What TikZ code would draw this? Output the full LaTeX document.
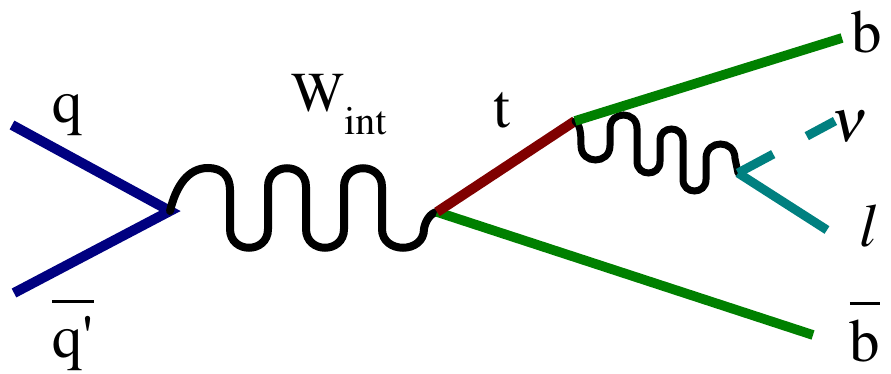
\documentclass[tikz,border=0pt]{standalone}
\usepackage[T1]{fontenc}
\usepackage{mathptmx}
\usepackage{tikz}
\definecolor{quarkblue}{RGB}{0,0,128}
\definecolor{topred}{RGB}{128,0,0}
\definecolor{bgreen}{RGB}{0,128,0}
\definecolor{leptonteal}{RGB}{0,128,128}
\newcommand\antibar[2]{\vbox{\hrule height 0.09cm\kern #1\hbox{\smash{#2}}}}
\tikzset{
  %% ---- fermion lines ----
  quark/.style   = {line width=0.3cm, color=quarkblue, line join=miter},
  topline/.style = {line width=0.3cm, color=topred},
  bline/.style   = {line width=0.29cm, color=bgreen},
  lepton/.style  = {line width=0.27cm, color=leptonteal},
  %% ---- bosons ----
  wint/.style    = {line width=0.24cm, black, line cap=round},
  wlep/.style    = {line width=0.21cm, black, line cap=round},
  %% ---- labels ----
  partname/.style = {inner sep=0pt, anchor=base,
                     font=\rmfamily\fontsize{#1}{60}\selectfont},
  partname/.default = 52,
}
\begin{document}
\begin{tikzpicture}[x=0.03cm, y=-0.03cm]
  \useasboundingbox (0,0) rectangle (891,374);

  %% vertices and free ends
  \coordinate (qin)   at (12,125);
  \coordinate (qbin)  at (14,293);
  \coordinate (v1)    at (170,211);
  \coordinate (v2)    at (437,212);
  \coordinate (v3)    at (575,121);
  \coordinate (v4)    at (738,173);
  \coordinate (bout)  at (842,38);
  \coordinate (bbout) at (813,335);
  \coordinate (nuout) at (835,121);
  \coordinate (lout)  at (827,230);

  %% incoming quarks
  \draw[quark] (qin) -- (v1) -- (qbin);

  %% W_int
  \draw[wint] (v1) .. controls (176,186) and (188,168) .. (208,168)
    .. controls (222,168) and (230,176) .. (230,190)
    \foreach \x in {230,306} {
      -- (\x,229) .. controls (\x,254) and (\x+38,254) .. (\x+38,229)
      -- (\x+38,187) .. controls (\x+38,162) and (\x+76,162) .. (\x+76,187)}
    -- (382,229) .. controls (382,254) and (424,254) .. (424,229)
    .. controls (425,222) and (430,213) .. (v2);

  %% b quarks and top
  \draw[bline] (v2) -- (bbout);
  \draw[topline] (v2) -- (v3);

  %% W from the top decay
  \draw[wlep] (v3) .. controls (580,125) and (581,132) .. (581,145.5)
    .. controls (581,164.8) and (610,164.8) .. (610,145.5)
    -- (610,128.5) .. controls (610,110.5) and (637,110.5) .. (637,128.5)
    -- (637,161.5) .. controls (637,176.8) and (660,176.8) .. (660,161.5)
    -- (660,140.5) .. controls (660,125.2) and (683,125.2) .. (683,140.5)
    -- (683,179.5) .. controls (683,194.8) and (706,194.8) .. (706,179.5)
    -- (706,158.5) .. controls (706,139.2) and (735,139.2) .. (735,158.5)
    -- (v4);
  \draw[bline] (v3) -- (bout);

  %% leptons
  \draw[lepton, dash pattern=on 1.2cm off 1.14cm] (v4) -- (nuout);
  \draw[lepton] (v4) -- (lout);

  %% labels
  \node[partname] (qlab)  at (68,123)  {q};
  \node[partname] (qblab) at (73,358)  {\antibar{1.65cm}{q\textquotesingle}};
  \node[partname=48, anchor=base west] (wlab) at (291,112)
    {W\raisebox{-0.69cm}{\fontsize{34}{40}\selectfont int}};
  \node[partname] (tlab)  at (502,128) {t};
  \node[partname] (blab)  at (867,53)  {b};
  \node[partname] (nulab) at (850,142) {$\nu$};
  \node[partname] (llab)  at (868,247) {\textit{l}};
  \node[partname] (bblab) at (865,362) {\antibar{1.71cm}{b}};

\end{tikzpicture}
\end{document}
